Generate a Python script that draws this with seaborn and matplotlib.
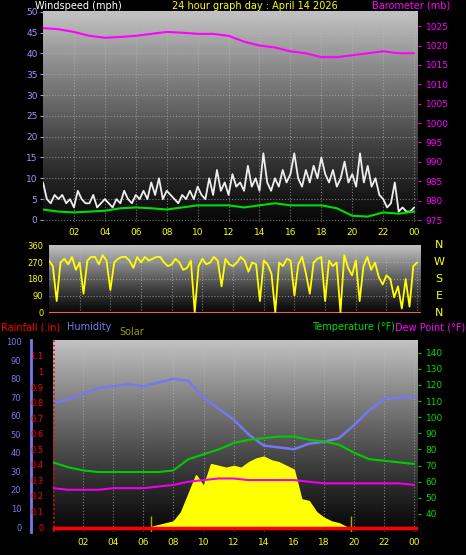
import numpy as np
import pandas as pd
import matplotlib
matplotlib.use("Agg")
import matplotlib.pyplot as plt
import seaborn as sns

sns.set_style("dark")
plt.rcParams['font.family'] = ['DejaVu Sans']

hours = list(range(25))
baro = [1024.5,1024.2,1023.5,1022.5,1022,1022.2,1022.5,1023,1023.5,1023.3,1023,1023,1022.5,1021,1020,1019.5,1018.5,1018,1017,1017,1017.5,1018,1018.5,1018,1018]
wind_avg = [2.5,2,1.8,2,2.2,2.8,3,2.8,2.5,3,3.5,3.5,3.5,3,3.5,4,3.5,3.5,3.5,2.8,1,0.8,1.8,1.5,2]
q = [i/4 for i in range(97)]
gust = [9,5,4,6,5,6,4,5,3,7,5,4,4,6,3,4,5,4,3,5,4,7,5,4,6,5,7,5,9,6,10,5,7,6,5,4,6,5,7,5,8,6,5,10,6,12,7,9,6,11,8,9,7,13,8,10,7,16,9,7,10,8,12,9,11,16,10,8,12,9,13,10,15,11,9,12,8,10,14,9,11,8,16,9,13,8,10,6,5,3,4,9,2,3,2,2,3,6]
gust = gust[:97]
wdir = [280,250,60,270,290,260,300,230,270,100,280,300,300,260,310,280,120,270,290,300,300,280,240,300,270,300,280,290,300,300,270,250,260,290,270,230,240,280,0,250,290,260,270,300,280,140,290,260,250,270,300,280,220,270,260,60,280,260,210,0,270,250,290,280,90,260,300,210,100,270,290,300,60,280,250,270,0,310,240,200,280,60,250,300,230,270,190,150,200,180,80,140,20,180,30,250,270,260]
wdir = wdir[:97]
humid = [67,69,72,75,76,77,76,78,80,79,70,64,58,50,44,43,42,45,46,48,55,63,69,70,70]
temp = [72,69,67,66,66,66,66,66,67,74,77,80,84,86,87,88,88,86,85,83,78,74,73,72,71]
dew = [56,55,55,55,56,56,56,57,58,60,61,62,62,61,61,61,61,60,59,59,59,59,59,59,58]
sol_t = [6.5,7,7.5,8,8.5,9,9.5,10,10.5,11,11.5,12,12.5,13,13.5,14,14.5,15,15.5,16,16.5,17,17.5,18,18.5,19,19.5]
solar = [0,1,2,3,8,18,28,22,34,33,32,33,32,35,37,38,36,35,33,31,15,14,8,5,3,2,0]
rain_ticks = [0, 0.1, 0.2, 0.3, 0.4, 0.5, 0.6, 0.7, 0.8, 0.9, 1, 1.1]
rain_labels = ["0","0.1","0.2","0.3","0.4","0.5","0.6","0.7","0.8","0.9","1","1.1"]
xt = [2,4,6,8,10,12,14,16,18,20,22,24]
xtl = ["02","04","06","08","10","12","14","16","18","20","22","00"]

W, H = 466, 555
fig = plt.figure(figsize=(W/100, H/100), dpi=100, facecolor="black")

def ax_at(x0, y0, x1, y1):
    return fig.add_axes([x0/W, 1-y1/H, (x1-x0)/W, (y1-y0)/H])

grad = (np.linspace(0.8, 0.05, 200) ** 1.2).reshape(-1, 1)
def style(ax):
    ax.imshow(grad, cmap="gray", vmin=0, vmax=1, aspect="auto",
              extent=[0, 1, 0, 1], transform=ax.transAxes, zorder=0)
    ax.set_facecolor("black")
    ax.grid(True, color="#bbbbbb", linestyle=":", linewidth=0.8, alpha=0.6)
    for s in ax.spines.values():
        s.set_visible(False)
    ax.set_xlim(0, 24.25)
    ax.set_xticks(xt)
    ax.set_xticklabels(xtl, color="yellow", fontsize=6.5)
    ax.tick_params(axis="both", length=2, pad=2)

# Top panel
ax1 = ax_at(43, 11, 418, 222)
style(ax1)
ax1.set_ylim(-0.5, 50.2)
ax1.set_yticks(range(0, 51, 5))
ax1.tick_params(axis="y", colors="#9999ff", labelsize=6.5)
ax1.tick_params(axis="x", colors="yellow")
sns.lineplot(x=q, y=gust, ax=ax1, color="#eeeeee", lw=1.3, zorder=3)
sns.lineplot(x=hours, y=wind_avg, ax=ax1, color="#00dd00", lw=1.5, zorder=4)
ax1b = ax1.twinx()
ax1b.set_ylim(974.5, 1028.9)
ax1b.set_yticks(range(975, 1026, 5))
ax1b.tick_params(axis="y", colors="magenta", labelsize=6.5, length=2)
for s in ax1b.spines.values():
    s.set_visible(False)
sns.lineplot(x=hours, y=baro, ax=ax1b, color="magenta", lw=1.5)
ax1b.set_ylabel("")
fig.text(35/W, 1-6/H, "Windspeed (mph)", color="white", fontsize=7, va="center")
fig.text(172/W, 1-6/H, "24 hour graph day : April 14 2026", color="yellow", fontsize=7, va="center")
fig.text(372/W, 1-6/H, "Barometer (mb)", color="magenta", fontsize=7, va="center")

# Middle panel
ax2 = ax_at(49, 245, 421, 313)
style(ax2)
ax2.set_ylim(-5, 365)
ax2.set_yticks([0, 90, 180, 270, 360])
ax2.tick_params(axis="y", colors="yellow", labelsize=6)
ax2.set_xticklabels([])
sns.lineplot(x=q, y=wdir, ax=ax2, color="yellow", lw=1.3, zorder=3)
ax2.axhline(-3, color="#ff5555", lw=1.5)
for i, t in enumerate(["N", "W", "S", "E", "N"]):
    fig.text(439/W, 1-(245+17*i)/H, t, color="yellow", fontsize=8, va="center", ha="center")

# Bottom panel
ax3 = ax_at(53, 340, 418, 532)
style(ax3)
ax3.set_ylim(-2.7, 101)
ax3.set_yticks([])
ax3.tick_params(axis="x", colors="yellow")
ax3.fill_between(sol_t, solar, color="yellow", zorder=2)
ax3.vlines([6.5, 19.8], -2.7, 6, color="#aaaa00", lw=1, zorder=3)
sns.lineplot(x=hours, y=humid, ax=ax3, color="#7777ee", lw=1.8, zorder=4)
ax3.axhline(-0.5, color="red", lw=2.5, zorder=5)
ax3.axvline(0.05, color="red", lw=1.2, ls=":", zorder=5)
ax3.set_ylabel("")

axh = ax_at(29, 340, 31, 532)
axh.set_facecolor("none")
axh.set_xticks([])
axh.set_ylim(-2.7, 101)
axh.set_yticks(range(0, 101, 10))
axh.tick_params(axis="y", colors="#7777ee", labelsize=6, length=2)
for k, s in axh.spines.items():
    s.set_visible(k == "right")
axh.spines["right"].set_color("#7777ee")
axh.spines["right"].set_linewidth(2)

axr = ax_at(51, 340, 53, 532)
axr.patch.set_visible(False)
axr.set_xticks([])
axr.set_ylim(-2.7*1.1/92.4, 101*1.1/92.4)
axr.set_yticks(rain_ticks)
axr.set_yticklabels(rain_labels)
axr.tick_params(axis="y", colors="red", labelsize=6, length=2)
for s in axr.spines.values():
    s.set_visible(False)

ax3b = ax3.twinx()
ax3b.set_ylim(28.8, 147.9)
ax3b.set_yticks(range(40, 141, 10))
ax3b.tick_params(axis="y", colors="#00dd00", labelsize=6.5, length=2)
for s in ax3b.spines.values():
    s.set_visible(False)
sns.lineplot(x=hours, y=temp, ax=ax3b, color="#00cc00", lw=1.5)
sns.lineplot(x=hours, y=dew, ax=ax3b, color="#ee00ee", lw=1.5)
ax3b.set_ylabel("")

fig.text(1/W, 1-327/H, "Rainfall (.in)", color="red", fontsize=7, va="center")
fig.text(67/W, 1-327/H, "Humidity", color="#7777ee", fontsize=7, va="center")
fig.text(119/W, 1-332/H, "Solar", color="#999900", fontsize=7, va="center")
fig.text(312/W, 1-327/H, "Temperature (°F)", color="#00dd00", fontsize=7, va="center")
fig.text(465/W, 1-327/H, "Dew Point (°F)", color="magenta", fontsize=7, va="center", ha="right")

fig.savefig("out.png", dpi=100, facecolor="black")
